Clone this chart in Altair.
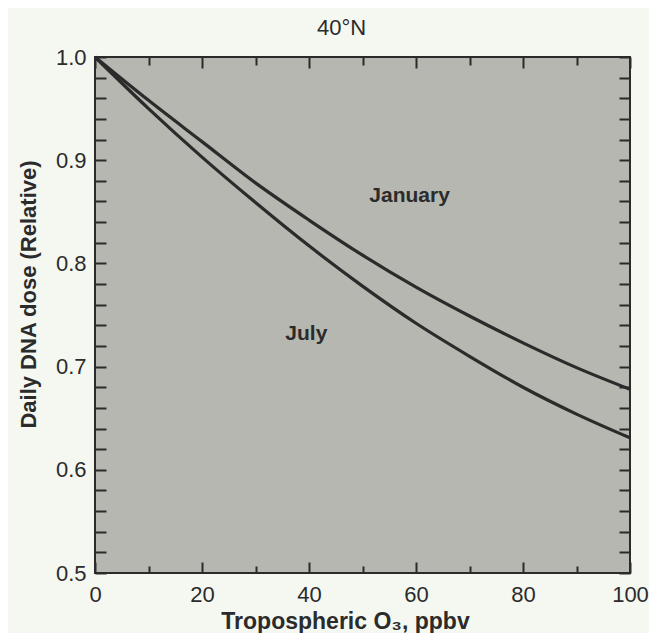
import altair as alt
import pandas as pd

# ---- data ----
ozone = [0, 10, 20, 30, 40, 50, 60, 70, 80, 90, 100]
january = [1.0, 0.958, 0.918, 0.878, 0.842, 0.808, 0.777, 0.749, 0.723, 0.699, 0.678]
july = [1.0, 0.950, 0.903, 0.859, 0.817, 0.778, 0.742, 0.710, 0.680, 0.654, 0.631]

label_text = ["January", "July"]
label_x = [58.8, 39.5]
label_y = [0.865, 0.732]

x_major = [0, 20, 40, 60, 80, 100]
x_minor = [10, 30, 50, 70, 90]
y_labels = [0.5, 0.6, 0.7, 0.8, 0.9, 1.0]
y_ticks = [0.5, 0.52, 0.54, 0.56, 0.58, 0.6, 0.62, 0.64, 0.66, 0.68, 0.7,
           0.72, 0.74, 0.76, 0.78, 0.8, 0.82, 0.84, 0.86, 0.88, 0.9,
           0.92, 0.94, 0.96, 0.98, 1.0]

df = pd.DataFrame({
    "ozone": ozone + ozone,
    "dose": january + july,
    "month": ["January"] * len(ozone) + ["July"] * len(ozone),
})
lab = pd.DataFrame({"label": label_text, "x": label_x, "y": label_y})

W, H = 535, 516
INK = "#2b2b2b"
FONT = "Liberation Sans"

xs = alt.Scale(domain=[0, 100], nice=False, zero=False)
ys = alt.Scale(domain=[0.5, 1.0], nice=False, zero=False)

lines = alt.Chart(df).mark_line(
    strokeWidth=3.2, color=INK, interpolate="monotone"
).encode(
    x=alt.X("ozone:Q", scale=xs, axis=alt.Axis(
        orient="bottom", values=x_major, ticks=False, domain=False, grid=False,
        labelFontSize=22, labelPadding=11, labelFlush=False, labelColor=INK,
        labelFont=FONT,
        title="Tropospheric O₃, ppbv", titleFontSize=23, titleFontWeight="bold",
        titleColor=INK, titleFont=FONT, titleX=250, titleY=55,
        titleBaseline="alphabetic", titleAlign="center")),
    y=alt.Y("dose:Q", scale=ys, axis=alt.Axis(
        orient="left", values=y_labels, format=".1f", ticks=False, domain=False,
        grid=False, labelFontSize=22, labelPadding=9, labelColor=INK,
        labelFont=FONT,
        title="Daily DNA dose (Relative)", titleFontSize=22, titleFontWeight="bold",
        titleColor=INK, titleFont=FONT, titleX=-67, titleY=237, titleAngle=270,
        titleAlign="center", titleBaseline="middle")),
    detail="month:N",
)

labels = alt.Chart(lab).mark_text(
    fontSize=21, fontWeight="bold", color=INK, baseline="middle", font=FONT
).encode(
    x=alt.X("x:Q", scale=xs, axis=None),
    y=alt.Y("y:Q", scale=ys, axis=None),
    text="label:N",
)


def tick_axis(orient, offset, values, size):
    return alt.Axis(orient=orient, offset=offset, values=values, labels=False,
                    domain=False, grid=False, ticks=True, tickSize=size,
                    tickWidth=2, tickColor=INK, title=None)


def tick_layer(xaxis, yaxis):
    return alt.Chart(df).mark_point(opacity=0).encode(
        x=alt.X("ozone:Q", scale=xs, axis=xaxis),
        y=alt.Y("dose:Q", scale=ys, axis=yaxis),
    )


t1 = tick_layer(tick_axis("top", -H, x_major, 11), tick_axis("right", -W, y_ticks, 11))
t2 = tick_layer(tick_axis("top", -H, x_minor, 7), tick_axis("left", -W, y_ticks, 11))
t3 = tick_layer(tick_axis("bottom", -H, x_major, 11), None)
t4 = tick_layer(tick_axis("bottom", -H, x_minor, 8), None)

# chart heading drawn as the title of a bare top axis
head = tick_layer(alt.Axis(
    orient="top", labels=False, ticks=False, domain=False, grid=False,
    title="40°N", titleFontSize=22, titleFontWeight="normal", titleColor=INK,
    titleFont=FONT, titleX=246, titleY=-23, titleBaseline="alphabetic",
    titleAlign="center"), None)

chart = alt.layer(lines, labels, t1, t2, t3, t4, head).resolve_axis(
    x="independent", y="independent"
).properties(
    width=W, height=H,
    autosize=alt.AutoSizeParams(type="none"),
    padding={"left": 87, "top": 49, "right": 19, "bottom": 60},
    background="#f5f8f1",
).configure_view(
    fill="#b6b7b0", stroke=INK, strokeWidth=2
)

chart.save("out.html", embed_options={"renderer": "svg", "actions": False})
